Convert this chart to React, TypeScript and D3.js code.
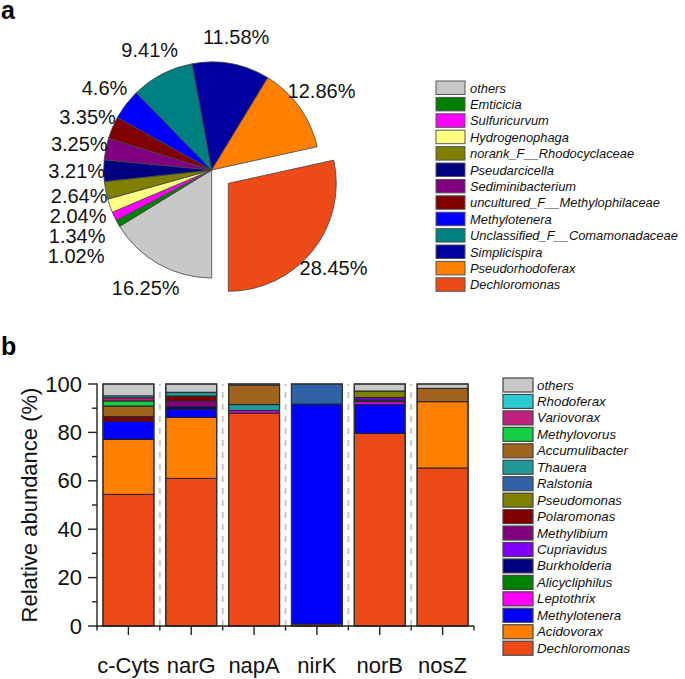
import React from 'react';
import * as d3 from 'd3';

// ---------- Panel a: pie ----------
const pieNames = ['others', 'Emticicia', 'Sulfuricurvum', 'Hydrogenophaga', 'norank_F__Rhodocyclaceae', 'Pseudarcicella', 'Sediminibacterium', 'uncultured_F__Methylophilaceae', 'Methylotenera', 'Unclassified_F__Comamonadaceae', 'Simplicispira', 'Pseudorhodoferax', 'Dechloromonas'];
const pieValues = [16.25, 1.02, 1.34, 2.04, 2.64, 3.21, 3.25, 3.35, 4.6, 9.41, 11.58, 12.86, 28.45];
const pieColors = ['#C8C8C8', '#008000', '#FF00FF', '#FFFF80', '#808000', '#000080', '#800080', '#800000', '#0000FF', '#008080', '#0000A0', '#FF8000', '#EE4A18'];

// ---------- Panel b: stacked bars ----------
const genes = ['c-Cyts', 'narG', 'napA', 'nirK', 'norB', 'nosZ'];
const Dechloromonas = [54.4, 61.0, 88.0, 0, 79.6, 65.3];
const Acidovorax = [22.7, 25.2, 0, 0.8, 0, 27.4];
const Methylotenera = [7.5, 3.4, 0, 90.9, 12.0, 0];
const Leptothrix = [0, 0, 1.0, 0, 1.1, 0];
const Alicycliphilus = [0, 0, 0, 0, 0.7, 0];
const Burkholderia = [0, 1.0, 0, 0, 0, 0];
const Cupriavidus = [0, 0, 0, 0, 1.0, 0];
const Methylibium = [0, 2.4, 0, 0, 0, 0];
const Polaromonas = [1.9, 2.0, 0, 0, 0, 0];
const Pseudomonas = [0, 0, 0, 0, 2.7, 0];
const Ralstonia = [0, 0, 0, 8.3, 0, 0];
const Thauera = [0, 1.6, 2.5, 0, 0, 0];
const Accumulibacter = [4.4, 0, 8.0, 0, 0, 5.5];
const Methylovorus = [2.1, 0, 0, 0, 0, 0];
const Variovorax = [1.3, 0, 0, 0, 0, 0];
const Rhodoferax = [0.8, 0, 0, 0, 0, 0];
const barOthers = [4.9, 3.4, 0.5, 0, 2.9, 1.8];

const barSeries: [string, number[]][] = [
  ['Dechloromonas', Dechloromonas], ['Acidovorax', Acidovorax], ['Methylotenera', Methylotenera],
  ['Leptothrix', Leptothrix], ['Alicycliphilus', Alicycliphilus], ['Burkholderia', Burkholderia],
  ['Cupriavidus', Cupriavidus], ['Methylibium', Methylibium], ['Polaromonas', Polaromonas],
  ['Pseudomonas', Pseudomonas], ['Ralstonia', Ralstonia], ['Thauera', Thauera],
  ['Accumulibacter', Accumulibacter], ['Methylovorus', Methylovorus], ['Variovorax', Variovorax],
  ['Rhodoferax', Rhodoferax], ['others', barOthers],
];
const barColors = ['#EE4A18', '#FF8000', '#0000FF', '#FF00FF', '#008000', '#000080', '#8000FF', '#800080', '#800000', '#808000', '#3063A5', '#219999', '#A06420', '#12CF45', '#C02080', '#2BC9D2', '#C8C8C8'];
const yTicks = [0, 20, 40, 60, 80, 100];

const FONT = "'Liberation Sans', Arial, sans-serif";

export default function App() {
  // ----- pie -----
  const cx = 211.7, cy = 170, R = 108, explode = 21.3, labelR = 135;
  const arcs = d3.pie<number>().sort(null).startAngle(Math.PI).endAngle(3 * Math.PI)(pieValues);
  const arcGen = d3.arc<d3.PieArcDatum<number>>().innerRadius(0).outerRadius(R);
  const explodedIdx = pieNames.indexOf('Dechloromonas');

  const labels = arcs.map((a, i) => {
    const mid = (a.startAngle + a.endAngle) / 2;
    const off = i === explodedIdx ? explode : 0;
    return {
      i, text: `${pieValues[i]}%`,
      x: cx + (off + labelR) * Math.sin(mid),
      y: cy - (off + labelR) * Math.cos(mid),
      left: Math.sin(mid) < 0,
    };
  });
  // push overlapping left-side labels down, keeping them stacked
  const leftSorted = labels.filter(l => l.left).sort((a, b) => a.y - b.y);
  for (let k = 1; k < leftSorted.length; k++) {
    const prev = leftSorted[k - 1];
    if (leftSorted[k].y < prev.y + 20) {
      leftSorted[k].y = prev.y + 20;
      leftSorted[k].x = Math.min(leftSorted[k].x, prev.x - 1);
    }
  }

  // ----- bars -----
  const y = d3.scaleLinear().domain([0, 100]).range([626, 384]);
  const x = d3.scaleBand<string>().domain(genes).range([97, 474]).paddingInner(0.19).paddingOuter(0.095);
  const step = x.step();
  const bw = x.bandwidth();
  const table = genes.map((g, gi) => {
    const row: any = { gene: g };
    barSeries.forEach(([n, v]) => (row[n] = v[gi]));
    return row;
  });
  const stacked = d3.stack<any>().keys(barSeries.map(s => s[0]))(table);
  const boundaries = genes.map((g) => (x(g) as number) - step * 0.095);
  boundaries.push((x(genes[genes.length - 1]) as number) + bw + step * 0.095);
  const minorY = d3.range(10, 100, 20);

  const pieLegendX = 436, pieLegendY = 81, legendStep = 16.4;
  const barLegendX = 503, barLegendY = 378;

  return (
    <svg width={685} height={679} style={{ position: 'absolute', left: 0, top: 0, fontFamily: FONT }}>
      <rect width={685} height={679} fill="#fff" />
      <text x={1} y={19} fontSize={25} fontWeight="bold">a</text>
      <text x={1} y={355} fontSize={25} fontWeight="bold">b</text>

      {/* pie */}
      <g>
        {arcs.map((a, i) => {
          const m = (a.startAngle + a.endAngle) / 2;
          const off = i === explodedIdx ? explode : 0;
          return (
            <path key={i} d={arcGen(a) as string} fill={pieColors[i]} stroke="#444" strokeWidth={0.8}
              transform={`translate(${cx + off * Math.sin(m)},${cy - off * Math.cos(m)})`} />
          );
        })}
        {labels.map(l => (
          <text key={l.i} x={l.x} y={l.y} fontSize={20} textAnchor="middle" dominantBaseline="central" fill="#111">{l.text}</text>
        ))}
      </g>

      {/* pie legend */}
      <g>
        {pieNames.map((n, i) => (
          <g key={n} transform={`translate(${pieLegendX},${pieLegendY + i * legendStep})`}>
            <rect x={0} y={0} width={29} height={13.5} fill={pieColors[i]} stroke="#555" strokeWidth={1} />
            <text x={34} y={7} fontSize={12.9} fontStyle="italic" dominantBaseline="central" fill="#111">{n}</text>
          </g>
        ))}
      </g>

      {/* bars */}
      <g>
        {boundaries.slice(1, -1).map((bx, i) => (
          <line key={i} x1={bx} x2={bx} y1={626} y2={384} stroke="#C8C8C8" strokeWidth={2} strokeDasharray="6,6" />
        ))}
        {stacked.map((s, si) => (
          <g key={s.key}>
            {s.map((d, gi) => (d[1] - d[0] > 0 ? (
              <rect key={gi} x={x(genes[gi])} width={bw} y={y(d[1])} height={y(d[0]) - y(d[1])}
                fill={barColors[si]} stroke="#222" strokeWidth={1} />
            ) : null))}
          </g>
        ))}
        {genes.map(g => (
          <rect key={g} x={x(g)} width={bw} y={y(100)} height={y(0) - y(100)} fill="none" stroke="#333" strokeWidth={1.3} />
        ))}
      </g>

      {/* axes */}
      <g stroke="#222" strokeWidth={1.4}>
        <line x1={97} x2={97} y1={626} y2={383.5} />
        <line x1={96.3} x2={474} y1={626} y2={626} />
        {yTicks.map(t => <line key={t} x1={88} x2={97} y1={y(t)} y2={y(t)} />)}
        {minorY.map(t => <line key={t} x1={92} x2={97} y1={y(t)} y2={y(t)} />)}
        {genes.map(g => {
          const c = (x(g) as number) + bw / 2;
          return <line key={g} x1={c} x2={c} y1={626} y2={635} />;
        })}
        {boundaries.map((b, i) => <line key={i} x1={b} x2={b} y1={626} y2={630.5} />)}
      </g>
      {yTicks.map(t => (
        <text key={t} x={82} y={y(t)} fontSize={22} textAnchor="end" dominantBaseline="central" fill="#111">{t}</text>
      ))}
      {genes.map(g => (
        <text key={g} x={(x(g) as number) + bw / 2} y={673} fontSize={22} textAnchor="middle" fill="#111">{g}</text>
      ))}
      <text transform="translate(29,505) rotate(-90)" fontSize={22} textAnchor="middle" dominantBaseline="central" fill="#111">Relative abundance (%)</text>

      {/* bar legend (top: others) */}
      <g>
        {barSeries.slice().reverse().map(([n], i) => {
          const ci = barSeries.length - 1 - i;
          return (
            <g key={n} transform={`translate(${barLegendX},${barLegendY + i * 16.45})`}>
              <rect x={0} y={0} width={30} height={14} fill={barColors[ci]} stroke="#444" strokeWidth={1.2} />
              <text x={34} y={7} fontSize={13.3} fontStyle="italic" dominantBaseline="central" fill="#111">{n}</text>
            </g>
          );
        })}
      </g>
    </svg>
  );
}
